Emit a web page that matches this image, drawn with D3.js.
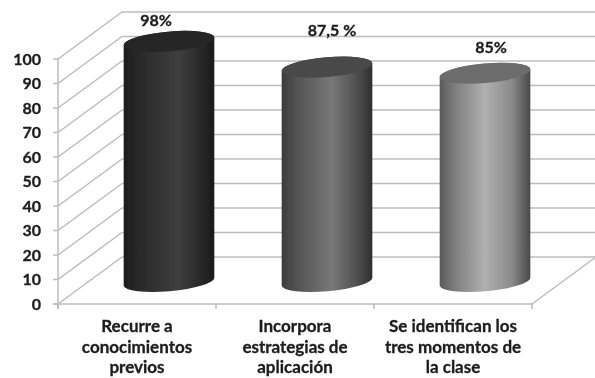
<!DOCTYPE html>
<html><head><meta charset="utf-8">
<script src="https://cdn.jsdelivr.net/npm/d3@7"></script>
<style>html,body{margin:0;padding:0;background:#fff}svg{display:block}
text{font-family:Lato,"Open Sans",sans-serif;font-weight:700;fill:#1c1c1c;stroke:#1c1c1c;stroke-width:.3}</style>
</head><body><div id="c"></div>
<script>
const categories = ["Recurre a conocimientos previos","Incorpora estrategias de aplicación","Se identifican los tres momentos de la clase"];
const categoryLines = [["Recurre a","conocimientos","previos"],["Incorpora","estrategias de","aplicación"],["Se identifican los","tres momentos de","la clase"]];
const values = [98,87.5,85];
const valueLabels = ["98%","87,5 %","85%"];
const yTicks = [0,10,20,30,40,50,60,70,80,90,100];

const W=595,H=378;
const x0=58,x1=532,yB=304,yT=59,depthX=64,depthY=47;
const y=d3.scaleLinear().domain([0,100]).range([yB,yT]);
const x=d3.scaleBand().domain(categories).range([x0,x1]);
const svg=d3.select("#c").append("svg").attr("width",W).attr("height",H);
const defs=svg.append("defs");
defs.append("filter").attr("id","soft").attr("x","-5%").attr("y","-5%").attr("width","110%").attr("height","110%")
  .append("feGaussianBlur").attr("stdDeviation",0.45);
const root=svg.append("g").attr("filter","url(#soft)");

const grid="#bcbcbc";
const g=root.append("g").attr("stroke",grid).attr("stroke-width",1.5).attr("fill","none");
g.selectAll("line.back").data(yTicks).join("line").attr("class","back")
  .attr("x1",x0+depthX).attr("x2",W).attr("y1",d=>y(d)-depthY).attr("y2",d=>y(d)-depthY);
g.selectAll("line.side").data(yTicks).join("line").attr("class","side")
  .attr("x1",x0).attr("x2",x0+depthX).attr("y1",d=>y(d)).attr("y2",d=>y(d)-depthY);
g.append("line").attr("x1",x0).attr("x2",x0).attr("y1",yT).attr("y2",yB+5);
g.append("line").attr("x1",x0-5).attr("x2",x1).attr("y1",yB).attr("y2",yB);
g.append("line").attr("x1",x1).attr("x2",x1+depthX).attr("y1",yB).attr("y2",yB-depthY);
g.selectAll("line.yt").data(yTicks).join("line").attr("class","yt")
  .attr("x1",x0-5).attr("x2",x0).attr("y1",d=>y(d)).attr("y2",d=>y(d));
g.selectAll("line.xt").data([...categories.map(c=>x(c)),x1]).join("line").attr("class","xt")
  .attr("x1",d=>d).attr("x2",d=>d).attr("y1",yB).attr("y2",yB+5);

// cylinders
const ramps=[
 {stops:[[0,"#1c1c1c"],[.12,"#262626"],[.6,"#3e3e3e"],[.88,"#262626"],[1,"#191919"]],top:"#252525"},
 {stops:[[0,"#3c3c3c"],[.15,"#505050"],[.55,"#787878"],[.85,"#4c4c4c"],[1,"#2e2e2e"]],top:"#484848"},
 {stops:[[0,"#5a5a5a"],[.18,"#808080"],[.5,"#b0b0b0"],[.8,"#8a8a8a"],[1,"#484848"]],top:"#6c6c6c"}
];
const rx=45.5,ry=9.8,ang=5,zOff=22.5,cxOff=32;
const vx=rx*Math.cos(ang*Math.PI/180),vy=-rx*Math.sin(ang*Math.PI/180);
const cyl=root.append("g");
categories.forEach((c,i)=>{
  const id="g"+i;
  defs.append("linearGradient").attr("id",id).selectAll("stop").data(ramps[i].stops).join("stop")
    .attr("offset",d=>d[0]).attr("stop-color",d=>d[1]);
  const cx=x(c)+x.bandwidth()/2+cxOff, yb=y(0)-zOff, yt=y(values[i])-zOff;
  cyl.append("path")
    .attr("d",`M${cx-vx},${yt-vy}L${cx-vx},${yb-vy}A${rx},${ry} ${-ang} 0 0 ${cx+vx},${yb+vy}L${cx+vx},${yt+vy}A${rx},${ry} ${-ang} 0 0 ${cx-vx},${yt-vy}Z`)
    .attr("fill",`url(#${id})`);
  cyl.append("ellipse").attr("cx",cx).attr("cy",yt).attr("rx",rx).attr("ry",ry)
    .attr("transform",`rotate(${-ang} ${cx} ${yt})`).attr("fill",ramps[i].top);
});

// text
const labelShift=[[-13,-21],[5,-37],[6,-26]];
const t=root.append("g");
t.selectAll("text.v").data(values).join("text").attr("class","v")
  .attr("x",(d,i)=>x(categories[i])+x.bandwidth()/2+cxOff+labelShift[i][0])
  .attr("y",(d,i)=>y(d)-zOff+labelShift[i][1]+5.5)
  .attr("text-anchor","middle").attr("font-size",16).text((d,i)=>valueLabels[i]);
t.selectAll("text.yl").data(yTicks).join("text").attr("class","yl")
  .attr("x",41).attr("y",d=>y(d)+5.5).attr("text-anchor","end").attr("font-size",16).text(d=>d);
categories.forEach((c,i)=>{
  categoryLines[i].forEach((s,j)=>{
    t.append("text").attr("x",x(c)+x.bandwidth()/2).attr("y",332+j*20.5)
      .attr("text-anchor","middle").attr("font-size",17).text(s);
  });
});
</script></body></html>
